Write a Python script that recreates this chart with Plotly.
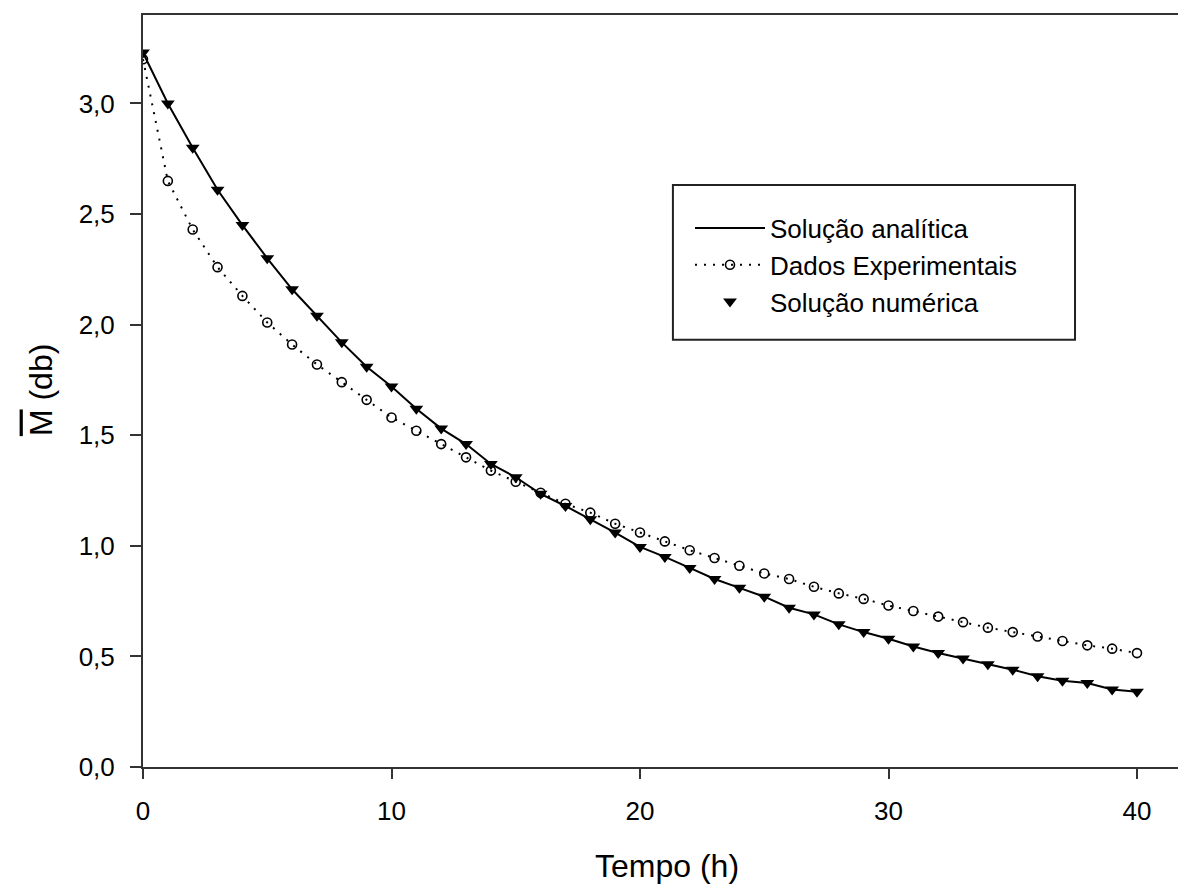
import plotly.graph_objects as go

# ---- data ----
tempo = list(range(0, 41))
solucao_numerica = [3.23, 3.00, 2.80, 2.61, 2.45, 2.30, 2.16, 2.04, 1.92, 1.81,
                    1.72, 1.62, 1.53, 1.46, 1.37, 1.31, 1.235, 1.18, 1.12, 1.06,
                    0.995, 0.95, 0.90, 0.85, 0.81, 0.77, 0.72, 0.69, 0.645, 0.61,
                    0.58, 0.545, 0.515, 0.49, 0.465, 0.44, 0.41, 0.39, 0.38, 0.35, 0.34]
solucao_analitica = [3.23, 3.00, 2.80, 2.61, 2.45, 2.30, 2.16, 2.04, 1.92, 1.81,
                     1.72, 1.62, 1.53, 1.46, 1.37, 1.31, 1.235, 1.18, 1.12, 1.06,
                     0.995, 0.95, 0.90, 0.85, 0.81, 0.77, 0.72, 0.69, 0.645, 0.61,
                     0.58, 0.545, 0.515, 0.49, 0.465, 0.44, 0.41, 0.39, 0.38, 0.35, 0.34]
dados_experimentais = [3.20, 2.65, 2.43, 2.26, 2.13, 2.01, 1.91, 1.82, 1.74, 1.66,
                       1.58, 1.52, 1.46, 1.40, 1.34, 1.29, 1.24, 1.19, 1.15, 1.10,
                       1.06, 1.02, 0.98, 0.945, 0.91, 0.875, 0.85, 0.815, 0.785, 0.76,
                       0.73, 0.705, 0.68, 0.655, 0.63, 0.61, 0.59, 0.57, 0.55, 0.535, 0.515]

x_ticks = [0, 10, 20, 30, 40]
y_ticks = [0.0, 0.5, 1.0, 1.5, 2.0, 2.5, 3.0]
y_ticktext = ["0,0", "0,5", "1,0", "1,5", "2,0", "2,5", "3,0"]

FONT = "Liberation Sans, Arial, sans-serif"

fig = go.Figure()
fig.add_trace(go.Scatter(
    x=tempo, y=solucao_analitica, mode="lines", name="Solução analítica",
    line=dict(color="black", width=2)))
fig.add_trace(go.Scatter(
    x=tempo, y=dados_experimentais, mode="lines+markers", name="Dados Experimentais",
    line=dict(color="black", width=2, dash="2px,7px"),
    marker=dict(symbol="circle-open", size=9, color="black", line=dict(width=1.6))))
fig.add_trace(go.Scatter(
    x=tempo, y=solucao_numerica, mode="markers", name="Solução numérica",
    marker=dict(symbol="triangle-down", size=12, color="black")))

fig.update_layout(
    width=1178, height=894,
    margin=dict(l=143, r=0, t=15, b=127),
    paper_bgcolor="white", plot_bgcolor="white",
    font=dict(family=FONT, color="black"),
    showlegend=True,
    legend=dict(
        x=0.5285, y=0.748, xanchor="left", yanchor="top",
        borderwidth=0, bgcolor="rgba(0,0,0,0)",
        font=dict(size=26, family=FONT),
        itemwidth=70, tracegroupgap=0,
    ),
    shapes=[dict(type="rect", xref="paper", yref="paper",
                 x0=0.512, x1=0.9005, y0=0.568, y1=0.774,
                 line=dict(color="#222", width=2), fillcolor="rgba(0,0,0,0)",
                 layer="below")],
    xaxis=dict(
        range=[0, 41.65], tickvals=x_ticks, ticks="outside", ticklen=10, tickwidth=2,
        tickcolor="#333", showline=True, linecolor="#333", linewidth=2, mirror=True,
        showgrid=False, zeroline=False, tickfont=dict(size=26, family=FONT),
        ticklabelstandoff=10,
    ),
    yaxis=dict(
        range=[0, 3.40], tickvals=y_ticks, ticktext=y_ticktext, ticks="outside",
        ticklen=11, tickwidth=2, tickcolor="#333", showline=True, linecolor="#333",
        linewidth=2, mirror=False, showgrid=False, zeroline=False,
        tickfont=dict(size=26, family=FONT), ticklabelstandoff=10,
    ),
    annotations=[
        dict(text="Tempo (h)", xref="paper", yref="paper", x=0.506, y=-0.1316,
             yanchor="middle", showarrow=False, font=dict(size=32, family=FONT)),
        dict(text="<span style='text-decoration:overline'>M</span> (db)",
             xref="paper", yref="paper", x=-0.118, y=0.501, textangle=-90,
             showarrow=False, font=dict(size=32, family=FONT)),
    ],
)

fig.write_html("out.html")
